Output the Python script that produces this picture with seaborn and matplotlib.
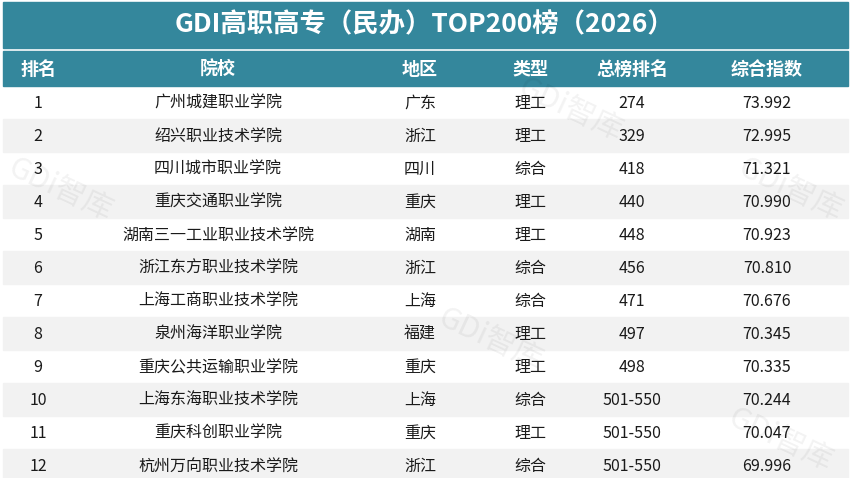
import matplotlib
matplotlib.use("Agg")
import matplotlib.pyplot as plt
import seaborn as sns
from matplotlib.patches import Rectangle

sns.set_theme(style="white")
plt.rcParams['font.family'] = ['Noto Sans CJK SC', 'DejaVu Sans']

title = "GDI高职高专（民办）TOP200榜（2026）"
headers = ["排名", "院校", "地区", "类型", "总榜排名", "综合指数"]
ranks = [str(i) for i in range(1, 13)]
schools = ["广州城建职业学院", "绍兴职业技术学院", "四川城市职业学院", "重庆交通职业学院",
           "湖南三一工业职业技术学院", "浙江东方职业技术学院", "上海工商职业技术学院",
           "泉州海洋职业学院", "重庆公共运输职业学院", "上海东海职业技术学院",
           "重庆科创职业学院", "杭州万向职业技术学院"]
regions = ["广东", "浙江", "四川", "重庆", "湖南", "浙江", "上海", "福建", "重庆", "上海", "重庆", "浙江"]
types = ["理工", "理工", "综合", "理工", "理工", "综合", "综合", "理工", "理工", "综合", "理工", "综合"]
overall = ["274", "329", "418", "440", "448", "456", "471", "497", "498", "501-550", "501-550", "501-550"]
scores = ["73.992", "72.995", "71.321", "70.990", "70.923", "70.810", "70.676",
          "70.345", "70.335", "70.244", "70.047", "69.996"]

W, H = 850, 478
fig = plt.figure(figsize=(W / 100, H / 100), dpi=100)
ax = fig.add_axes([0, 0, 1, 1])
ax.set_xlim(0, W)
ax.set_ylim(H, 0)
ax.axis("off")

teal = "#34879C"
left, right = 3, 848
xs = [38, 218, 420, 530, 632, 767]

ax.add_patch(Rectangle((left, 2), right - left, 46, color=teal))
ax.text(W / 2, 25, title, ha="center", va="center", color="white", fontsize=19, fontweight="bold")

ax.add_patch(Rectangle((left, 51), right - left, 35, color=teal))
for x, h in zip(xs, headers):
    ax.text(x, 69, h, ha="center", va="center", color="white", fontsize=13, fontweight="bold")

row_h = 33
y0 = 86
for i in range(len(ranks)):
    y = y0 + i * row_h
    if i % 2 == 1:
        ax.add_patch(Rectangle((left, y), right - left, row_h, color="#F2F2F2"))
    cy = y + row_h / 2 + 1
    for x, v in zip(xs, [ranks[i], schools[i], regions[i], types[i], overall[i], scores[i]]):
        ax.text(x, cy, v, ha="center", va="center", color="#1a1a1a", fontsize=11.5)

# faint watermarks
for (x, y) in [(570, 110), (490, 340), (790, 190), (780, 440), (60, 190)]:
    ax.text(x, y, "GDi智库", ha="center", va="center", color="#000000", alpha=0.05,
            fontsize=22, rotation=-25)

fig.savefig("out.png", dpi=100)
